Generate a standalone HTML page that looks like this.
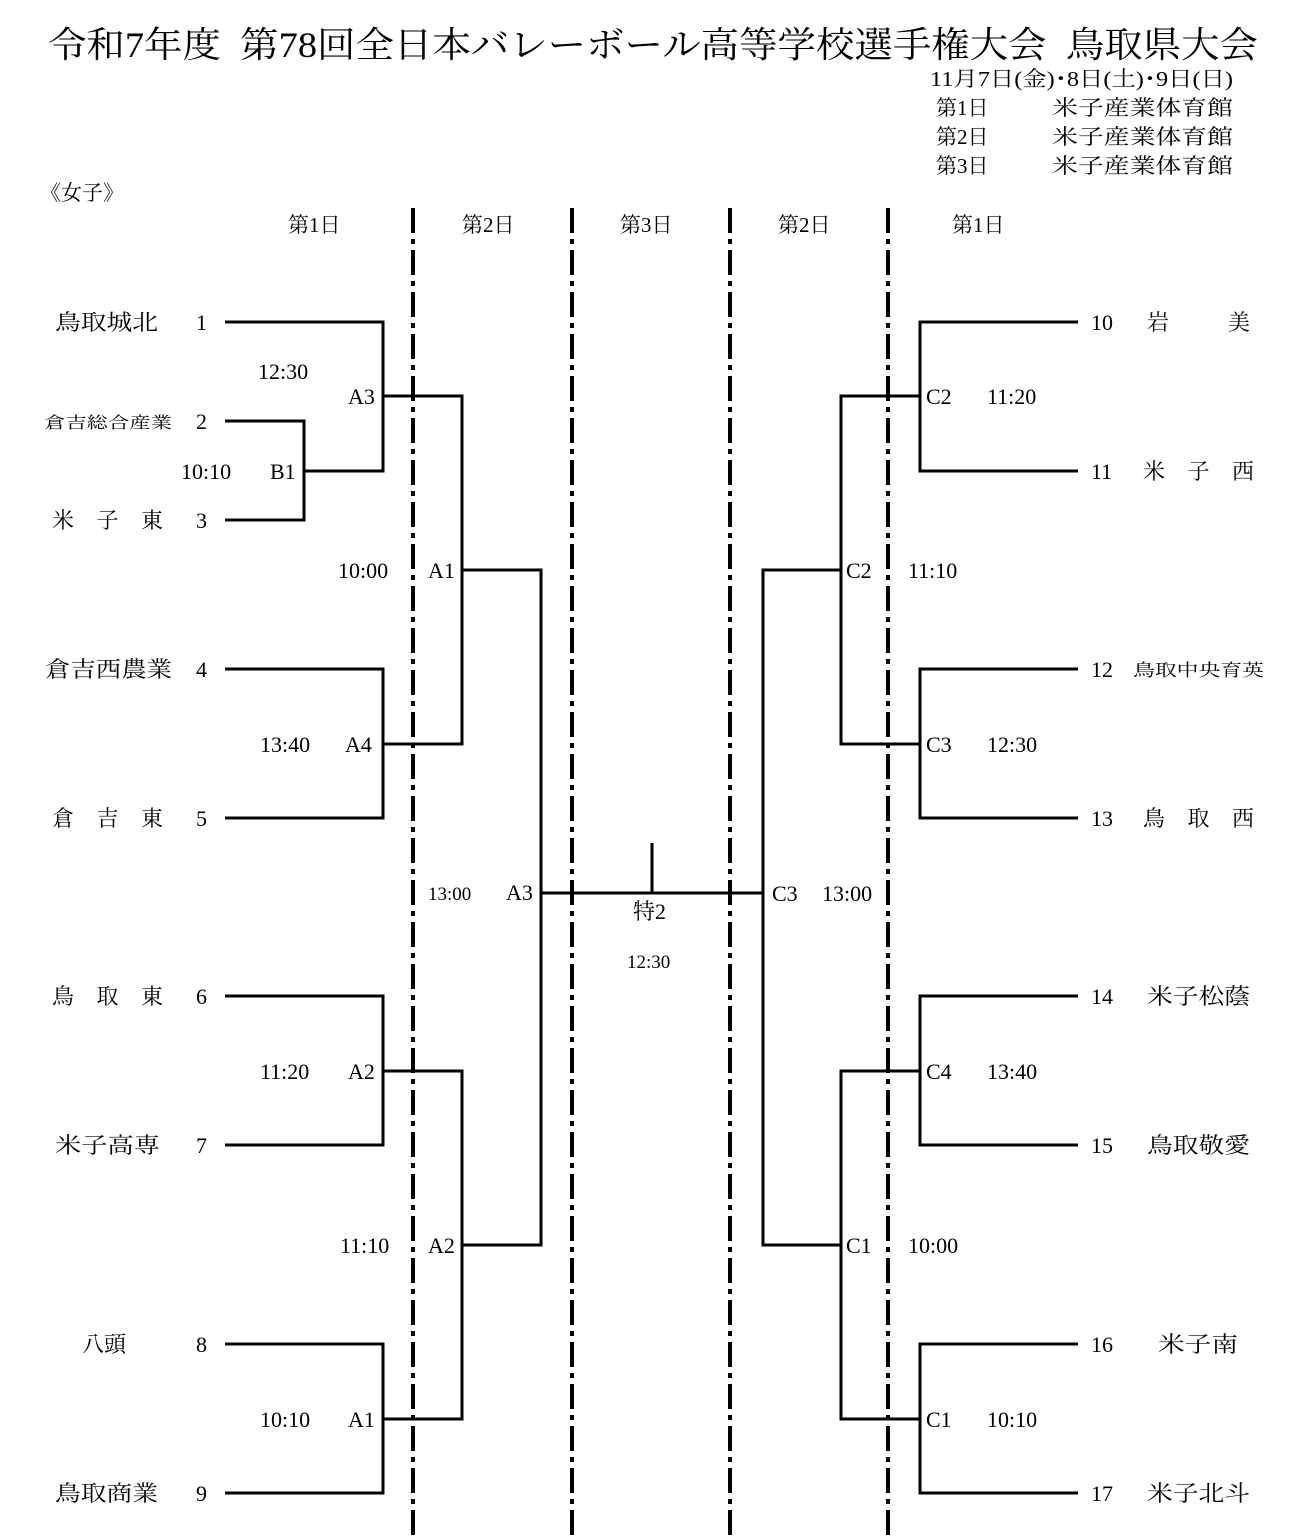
<!DOCTYPE html>
<html><head><meta charset="utf-8"><style>
body{margin:0;background:#fff}
svg{display:block}
text{font-family:"Liberation Serif","Noto Serif CJK JP",serif;fill:#000;white-space:pre}
</style></head><body>
<svg width="1304" height="1538" viewBox="0 0 1304 1538" xmlns="http://www.w3.org/2000/svg">
<text x="48" y="57" font-size="36" textLength="1210" lengthAdjust="spacingAndGlyphs">令和7年度  第78回全日本バレーボール高等学校選手権大会  鳥取県大会</text>
<g font-size="21">
<text x="930" y="86" textLength="303" lengthAdjust="spacingAndGlyphs">11月7日(金)･8日(土)･9日(日)</text>
<text x="936" y="115">第1日</text><text x="1052" y="115" textLength="181" lengthAdjust="spacingAndGlyphs">米子産業体育館</text>
<text x="936" y="144">第2日</text><text x="1052" y="144" textLength="181" lengthAdjust="spacingAndGlyphs">米子産業体育館</text>
<text x="936" y="173">第3日</text><text x="1052" y="173" textLength="181" lengthAdjust="spacingAndGlyphs">米子産業体育館</text>
<text x="40" y="200">《女子》</text>
<text x="288" y="232">第1日</text><text x="462" y="232">第2日</text><text x="620" y="232">第3日</text><text x="778" y="232">第2日</text><text x="952" y="232">第1日</text>
</g>
<g stroke="#000" stroke-width="4" stroke-dasharray="25 6 5 6">
<line x1="413" y1="208" x2="413" y2="1538"/><line x1="572" y1="208" x2="572" y2="1538"/>
<line x1="730" y1="208" x2="730" y2="1538"/><line x1="888" y1="208" x2="888" y2="1538"/>
</g>
<g stroke="#000" stroke-width="3" fill="none">
<path d="M225 322H383V471H304M225 421H304V520H225M383 396H462V744H383M225 669H383V818H225M462 570H541V1245H462M541 893H763M652 843V893"/>
<path d="M225 996H383V1145H225M383 1071H462V1419H383M225 1344H383V1493H225"/>
<path d="M1078 322H920V471H1078M920 396H841V744H920M1078 669H920V818H1078M841 570H763V1245H841"/>
<path d="M1078 996H920V1145H1078M920 1071H841V1419H920M1078 1344H920V1493H1078"/>
</g>
<g font-size="22">
<text x="55" y="330" textLength="103" lengthAdjust="spacingAndGlyphs">鳥取城北</text><text x="196" y="330">1</text>
<text x="44" y="428" font-size="16" textLength="128" lengthAdjust="spacingAndGlyphs">倉吉総合産業</text><text x="196" y="429">2</text>
<text x="52" y="528" textLength="111" lengthAdjust="spacing">米 子 東</text><text x="196" y="528">3</text>
<text x="45" y="677" textLength="127" lengthAdjust="spacingAndGlyphs">倉吉西農業</text><text x="196" y="677">4</text>
<text x="52" y="826" textLength="111" lengthAdjust="spacing">倉 吉 東</text><text x="196" y="826">5</text>
<text x="52" y="1004" textLength="111" lengthAdjust="spacing">鳥 取 東</text><text x="196" y="1004">6</text>
<text x="55" y="1153" textLength="105" lengthAdjust="spacingAndGlyphs">米子高専</text><text x="196" y="1153">7</text>
<text x="82" y="1352">八頭</text><text x="196" y="1352">8</text>
<text x="55" y="1501" textLength="103" lengthAdjust="spacingAndGlyphs">鳥取商業</text><text x="196" y="1501">9</text>

<text x="258" y="379">12:30</text><text x="348" y="404">A3</text>
<text x="181" y="479">10:10</text><text x="270" y="479">B1</text>
<text x="338" y="578">10:00</text><text x="428" y="578">A1</text>
<text x="260" y="752">13:40</text><text x="345" y="752">A4</text>
<text x="428" y="900" font-size="19">13:00</text><text x="506" y="900">A3</text>
<text x="633" y="919">特2</text><text x="627" y="968" font-size="19">12:30</text>
<text x="260" y="1079">11:20</text><text x="348" y="1079">A2</text>
<text x="340" y="1253">11:10</text><text x="428" y="1253">A2</text>
<text x="260" y="1427">10:10</text><text x="348" y="1427">A1</text>

<text x="926" y="404">C2</text><text x="987" y="404">11:20</text>
<text x="846" y="578">C2</text><text x="908" y="578">11:10</text>
<text x="926" y="752">C3</text><text x="987" y="752">12:30</text>
<text x="772" y="901">C3</text><text x="822" y="901">13:00</text>
<text x="926" y="1079">C4</text><text x="987" y="1079">13:40</text>
<text x="846" y="1253">C1</text><text x="908" y="1253">10:00</text>
<text x="926" y="1427">C1</text><text x="987" y="1427">10:10</text>

<text x="1091" y="330">10</text><text x="1147" y="330" textLength="103" lengthAdjust="spacing">岩   美</text>
<text x="1091" y="479">11</text><text x="1143" y="479" textLength="111" lengthAdjust="spacing">米 子 西</text>
<text x="1091" y="677">12</text><text x="1133" y="676" font-size="17" textLength="131" lengthAdjust="spacingAndGlyphs">鳥取中央育英</text>
<text x="1091" y="826">13</text><text x="1143" y="826" textLength="111" lengthAdjust="spacing">鳥 取 西</text>
<text x="1091" y="1004">14</text><text x="1147" y="1004" textLength="103" lengthAdjust="spacingAndGlyphs">米子松蔭</text>
<text x="1091" y="1153">15</text><text x="1147" y="1153" textLength="103" lengthAdjust="spacingAndGlyphs">鳥取敬愛</text>
<text x="1091" y="1352">16</text><text x="1158" y="1352" textLength="80" lengthAdjust="spacingAndGlyphs">米子南</text>
<text x="1091" y="1501">17</text><text x="1147" y="1501" textLength="103" lengthAdjust="spacingAndGlyphs">米子北斗</text>
</g>
</svg>
</body></html>
